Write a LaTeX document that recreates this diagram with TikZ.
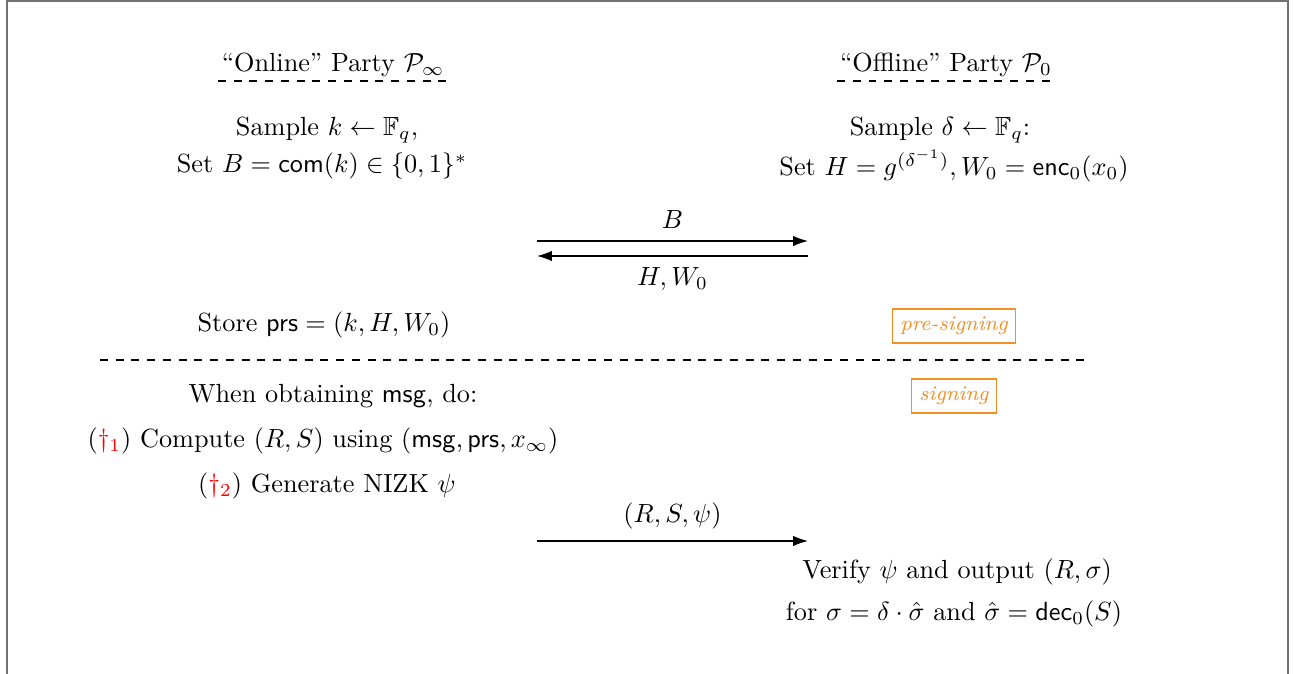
\documentclass[tikz,border=0pt]{standalone}
\usepackage{amsmath,amssymb}
\usetikzlibrary{positioning,arrows.meta}
\definecolor{phaseorange}{RGB}{245,142,35}

\begin{document}
\begin{tikzpicture}[
  x=0.381pt, y=-0.381pt,
  font=\normalsize,
  party/.style={inner sep=1pt,anchor=base},
  txt/.style={inner sep=1pt},
  phase/.style={draw=phaseorange,text=phaseorange,font=\footnotesize\itshape,inner sep=3pt,line width=0.5pt},
  msg/.style={-{Latex[length=2mm,width=1.4mm]},line width=0.5pt},
]
  \useasboundingbox (0,0) rectangle (1294,674);
  \draw[gray!90!black,line width=0.8pt] (7,680) -- (7,1) -- (1288,1) -- (1288,680);

  % parties
  \node[party] (onl) at (333,72) {``Online'' Party $\mathcal{P}_\infty$};
  \node[party] (off) at (946,72) {``Offline'' Party $\mathcal{P}_0$};
  \draw[dashed] (218,81) -- (448,81);
  \draw[dashed] (837,81) -- (1056,81);

  % pre-signing
  \node[txt] (smpk) at (327,130) {Sample $k \leftarrow \mathbb{F}_q$,};
  \node[txt] (setb) at (322,166) {Set $B=\mathsf{com}(k)\in\{0,1\}^*$};
  \node[txt] (smpd) at (940,130) {Sample $\delta \leftarrow \mathbb{F}_q$:};
  \node[txt] (seth) at (954,166) {Set $H=g^{(\delta^{-1})}, W_0=\mathsf{enc}_0(x_0)$};

  \coordinate (b1) at (537,241);
  \coordinate (b2) at (808,241);
  \coordinate (h1) at (808,256);
  \coordinate (h2) at (537,256);
  \draw[msg] (b1) -- node[above=1pt] {$B$} (b2);
  \draw[msg] (h1) -- node[below=1pt] {$H,W_0$} (h2);

  \node[txt] (stor) at (324,325) {Store $\mathsf{prs}=(k,H,W_0)$};
  \node[phase] (pre) at (954,326) {pre-signing};

  \draw[dashed] (100,360) -- (1085,360);

  % signing
  \node[phase] (sig) at (954,396) {signing};
  \node[txt] (when) at (333,396) {When obtaining $\mathsf{msg}$, do:};
  \node[txt] (comp) at (323,441) {(\textcolor{red}{$\dagger_1$}) Compute $(R,S)$ using $(\mathsf{msg},\mathsf{prs},x_\infty)$};
  \node[txt] (nizk) at (327,486) {(\textcolor{red}{$\dagger_2$}) Generate NIZK $\psi$};

  \coordinate (r1) at (537,541);
  \coordinate (r2) at (808,541);
  \draw[msg] (r1) -- node[above=1pt] {$(R,S,\psi)$} (r2);

  \node[txt] (vrfy) at (957,572) {Verify $\psi$ and output $(R,\sigma)$};
  \node[txt] (outp) at (954,614) {for $\sigma=\delta\cdot\hat\sigma$ and $\hat\sigma=\mathsf{dec}_0(S)$};
\end{tikzpicture}
\end{document}
